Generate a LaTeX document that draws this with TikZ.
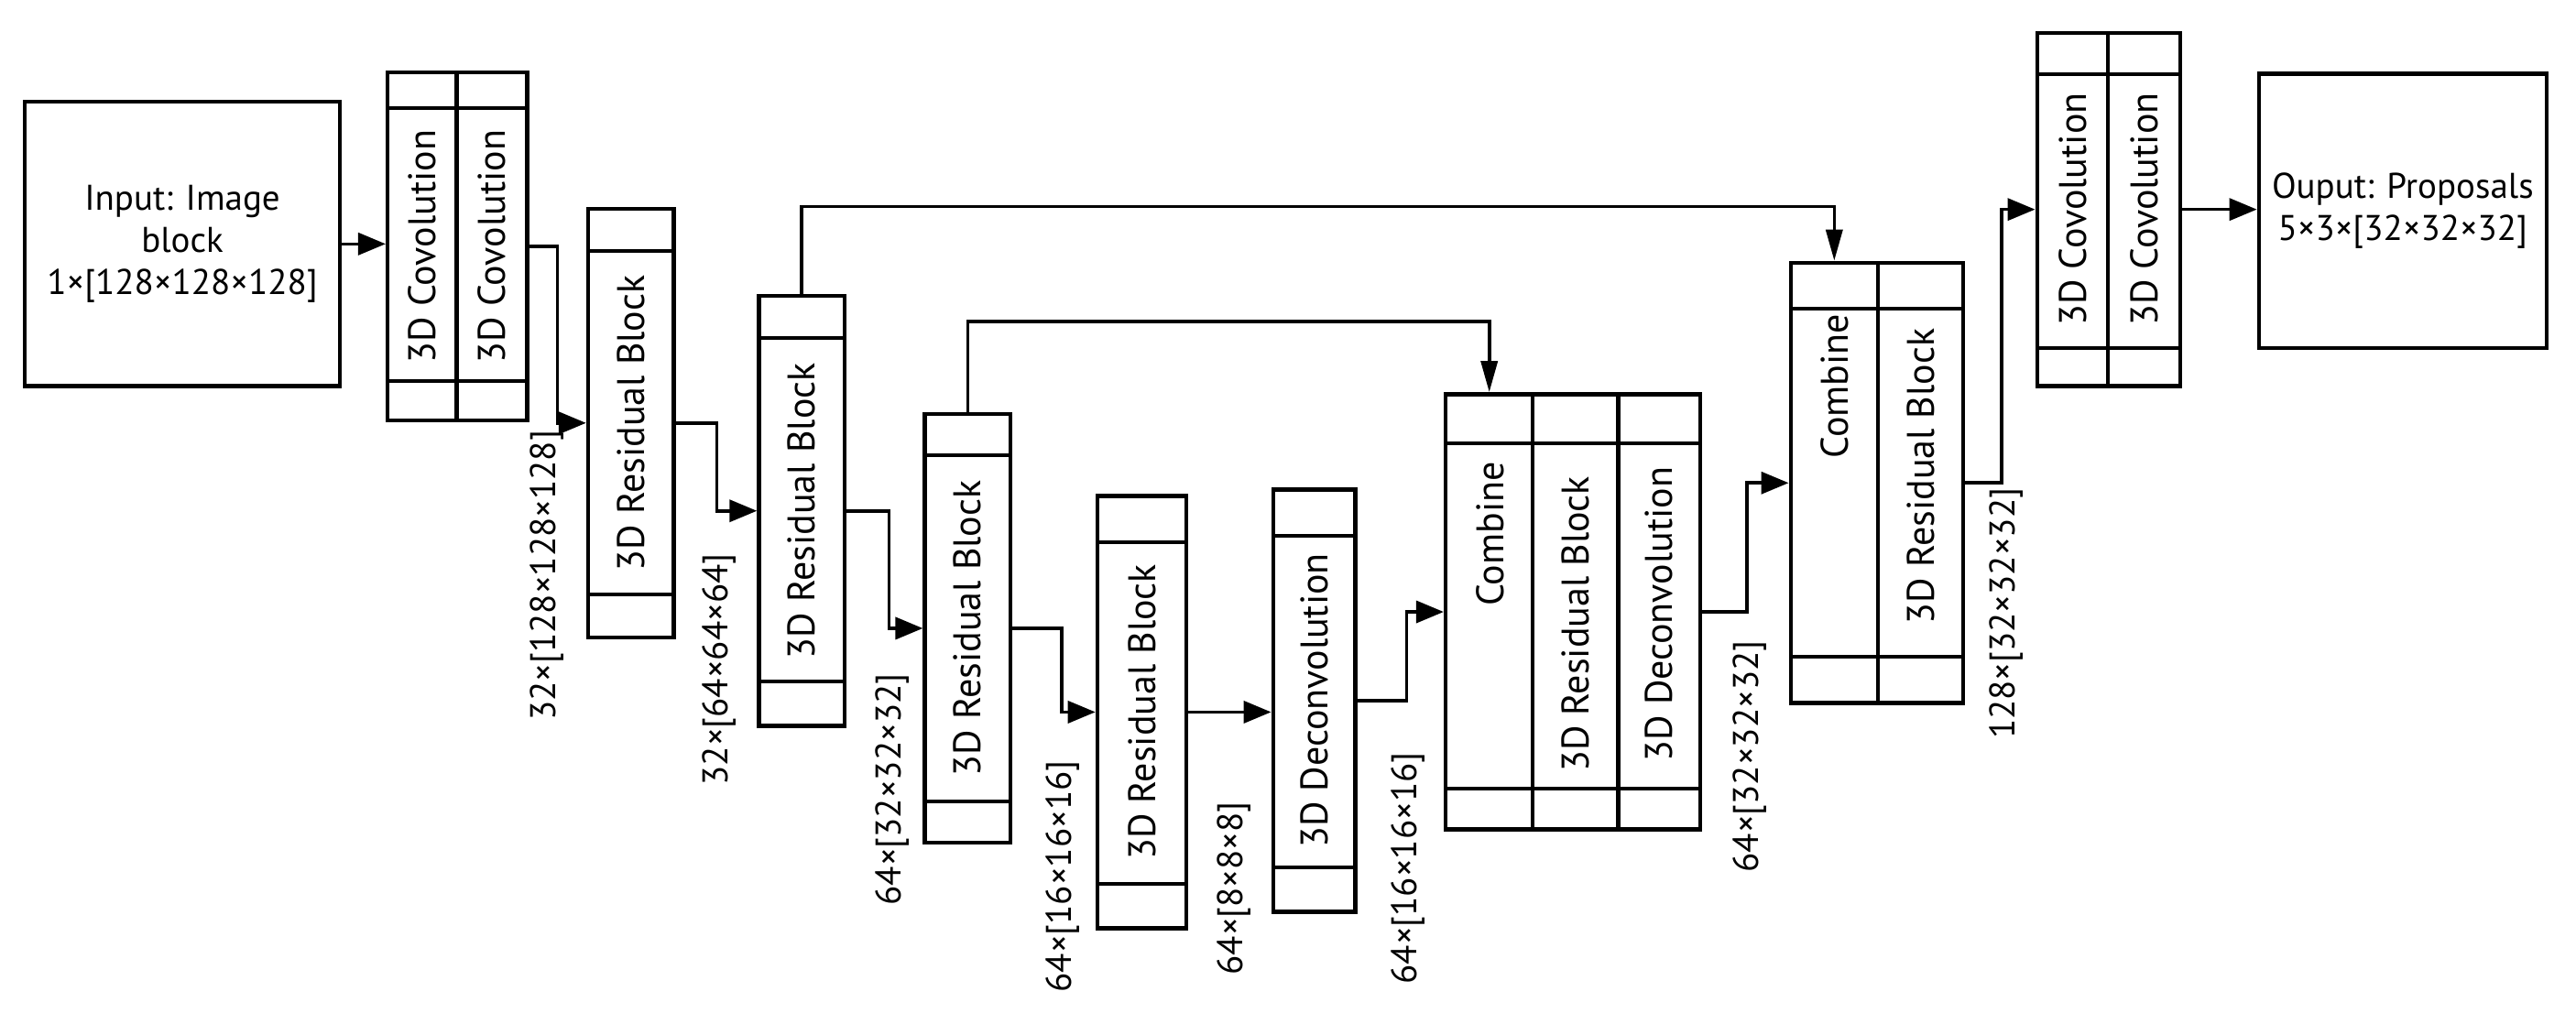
\documentclass[tikz,border=0pt]{standalone}
\usepackage{fontspec}
\setmainfont{PT Sans}
\usetikzlibrary{arrows.meta,fit,calc}
\newcommand{\colblk}[7]{%
  \node[box, fit={(#2,#3)(#4,#5)}] (#1) {};
  \draw[ln] (#2,#6) -- (#4,#6) (#2,#7) -- (#4,#7);
}
\begin{document}
\begin{tikzpicture}[x=1.7934pt,y=-1.7934pt,
  box/.style={draw, line width=4.5pt, inner sep=0pt},
  ln/.style={line width=4pt},
  arr/.style={line width=3.6pt, -{Triangle[length=30pt,width=24pt]}},
  sarr/.style={line width=3.6pt, -{Triangle[length=34pt,width=18pt]}},
  ctext/.style={rotate=90, font=\fontsize{42}{46}\selectfont, inner sep=0pt},
  lbl/.style={rotate=90, anchor=east, font=\fontsize{39}{42}\selectfont, inner sep=0pt},
  btext/.style={align=center, font=\fontsize{39}{46}\selectfont}
]
\useasboundingbox (0,0) rectangle (1568,630);
\fill[white] (0,0) rectangle (1568,630);

% input and output
\node[box, fit={(15,62)(207,235)}] (inp) {};
\node[btext] (inpt) at (inp) {Input: Image\\block\\1×[128×128×128]};
\node[box, fit={(1375,45)(1550,212)}] (out) {};
\node[btext] (outt) at (out) {Ouput: Proposals\\5×3×[32×32×32]};

% blocks
\colblk{conv1a}{236}{44}{278}{256}{66}{232}
\colblk{conv1b}{278}{44}{321}{256}{66}{232}
\colblk{res1}{358}{127}{410}{388}{153}{362}
\colblk{res2}{462}{180}{514}{442}{206}{415}
\colblk{res3}{563}{252}{615}{513}{277}{488}
\colblk{res4}{668}{302}{722}{565}{330}{538}
\colblk{dec}{775}{298}{825}{555}{326}{528}
\colblk{comb1a}{880}{240}{933}{505}{270}{480}
\colblk{comb1b}{933}{240}{985}{505}{270}{480}
\colblk{comb1c}{985}{240}{1035}{505}{270}{480}
\colblk{comb2a}{1090}{160}{1143}{428}{188}{400}
\colblk{comb2b}{1143}{160}{1195}{428}{188}{400}
\colblk{conv2a}{1240}{20}{1283}{235}{45}{212}
\colblk{conv2b}{1283}{20}{1327}{235}{45}{212}

% block texts
\node[ctext] (conv1at) at (conv1a) {3D Covolution};
\node[ctext] (conv1bt) at (conv1b) {3D Covolution};
\node[ctext] (res1t) at (res1) {3D Residual Block};
\node[ctext] (res2t) at (res2) {3D Residual Block};
\node[ctext] (res3t) at (res3) {3D Residual Block};
\node[ctext] (res4t) at (res4) {3D Residual Block};
\node[ctext] (dect) at (dec) {3D Deconvolution};
\node[ctext] (comb1at) at (907,325) {Combine};
\node[ctext] (comb1bt) at (959,380) {3D Residual Block};
\node[ctext] (comb1ct) at (1010,374) {3D Deconvolution};
\node[ctext] (comb2at) at (1117,235) {Combine};
\node[ctext] (comb2bt) at (1169,290) {3D Residual Block};
\node[ctext] (conv2at) at (conv2a) {3D Covolution};
\node[ctext] (conv2bt) at (conv2b) {3D Covolution};

% connectors
\draw[arr] (inp.east) -- (conv1a.west |- inp.east);
\draw[arr] (conv1b.east) -- ++(17,0) |- (res1.west);
\draw[arr] (res1.east) -- ++(25,0) |- (res2.west);
\draw[arr] (res2.east) -- ++(26,0) |- (res3.west);
\draw[arr] (res3.east) -- ++(30,0) |- (res4.west);
\draw[arr] (res4.east) -- (res4.east -| dec.west);
\draw[arr] (dec.east) -- ++(30,0) |- (comb1a.west);
\draw[arr] (comb1c.east) -- ++(27,0) |- (comb2a.west);
\draw[arr] (comb2b.east) -- ++(22,0) |- (conv2a.west);
\draw[arr] (conv2b.east) -- (conv2b.east -| out.west);
\draw[sarr] (res2.north) -- ++(0,-53) -| (comb2a.north);
\draw[sarr] (res3.north) -- ++(0,-55) -| (comb1a.north);

% size labels
\node[lbl] (l1) at (333,262) {32×[128×128×128]};
\node[lbl] (l2) at (438,337) {32×[64×64×64]};
\node[lbl] (l3) at (543,410) {64×[32×32×32]};
\node[lbl] (l4) at (647,463) {64×[16×16×16]};
\node[lbl] (l5) at (751,488) {64×[8×8×8]};
\node[lbl] (l6) at (857,458) {64×[16×16×16]};
\node[lbl] (l7) at (1065,390) {64×[32×32×32]};
\node[lbl] (l8) at (1221,297) {128×[32×32×32]};
\end{tikzpicture}
\end{document}
